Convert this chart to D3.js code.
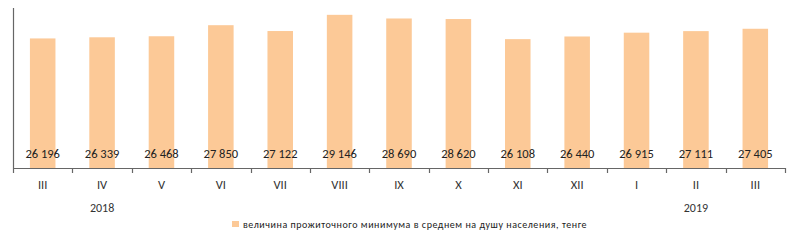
<!DOCTYPE html>
<html>
<head>
<meta charset="utf-8">
<script src="https://cdn.jsdelivr.net/npm/d3@7"></script>
<style>
  body { margin: 0; background: #fff; }
  text { font-family: Calibri, Carlito, "Liberation Sans", Arial, sans-serif; }
</style>
</head>
<body>
<div id="chartContainer"></div>
<script>
// Data
const months = ["III", "IV", "V", "VI", "VII", "VIII", "IX", "X", "XI", "XII", "I", "II", "III"];
const values = [26196, 26339, 26468, 27850, 27122, 29146, 28690, 28620, 26108, 26440, 26915, 27111, 27405];
const years = [{ label: "2018", index: 1 }, { label: "2019", index: 11 }];
const legendLabel = "величина прожиточного минимума в среднем на душу населения, тенге";

const keys = months.map((m, i) => i);

// Chart dimensions
const width = 800;
const height = 241;
const marginTop = 8;
const marginLeft = 13;
const marginRight = 15;
const axisY = 168;

const x = d3.scaleBand()
    .domain(keys)
    .range([marginLeft, width - marginRight])
    .paddingInner(0.57)
    .paddingOuter(0.285);

const y = d3.scaleLinear()
    .domain([10000, 30000])
    .range([axisY, marginTop]);

const svg = d3.create("svg")
    .attr("width", width)
    .attr("height", height)
    .attr("viewBox", [0, 0, width, height]);

// Bars
svg.append("g")
    .selectAll("rect")
    .data(values)
    .join("rect")
    .attr("x", (d, i) => x(i))
    .attr("y", d => y(d))
    .attr("width", x.bandwidth())
    .attr("height", d => axisY - y(d))
    .attr("fill", "#fcc997");

// Value labels near the bottom of each bar
svg.append("g")
    .selectAll("text")
    .data(values)
    .join("text")
    .attr("x", (d, i) => x(i) + x.bandwidth() / 2)
    .attr("y", axisY - 10)
    .attr("text-anchor", "middle")
    .attr("font-size", 12.5)
    .attr("fill", "#222")
    .text(d => d3.format(",")(d).replace(/,/g, " "));

// Y axis line (no ticks)
svg.append("line")
    .attr("x1", marginLeft + 0.5)
    .attr("x2", marginLeft + 0.5)
    .attr("y1", marginTop)
    .attr("y2", axisY)
    .attr("stroke", "#666")
    .attr("stroke-width", 1.2);

// X axis with ticks between categories
const tickPos = d3.range(months.length + 1).map(i => marginLeft + i * (width - marginRight - marginLeft) / months.length);

const xAxis = svg.append("g");
xAxis.append("line")
    .attr("x1", marginLeft)
    .attr("x2", width - marginRight)
    .attr("y1", axisY + 0.5)
    .attr("y2", axisY + 0.5)
    .attr("stroke", "#666")
    .attr("stroke-width", 1.2);
xAxis.selectAll(".tick")
    .data(tickPos)
    .join("line")
    .attr("x1", d => Math.round(d) + 0.5)
    .attr("x2", d => Math.round(d) + 0.5)
    .attr("y1", axisY)
    .attr("y2", axisY + 5)
    .attr("stroke", "#666")
    .attr("stroke-width", 1.2);

// Month labels
xAxis.selectAll(".month")
    .data(months)
    .join("text")
    .attr("x", (d, i) => x(i) + x.bandwidth() / 2)
    .attr("y", 189)
    .attr("text-anchor", "middle")
    .attr("font-size", 12.5)
    .attr("fill", "#333")
    .text(d => d);

// Year labels
svg.append("g")
    .selectAll("text")
    .data(years)
    .join("text")
    .attr("x", d => x(d.index) + x.bandwidth() / 2)
    .attr("y", 212)
    .attr("text-anchor", "middle")
    .attr("font-size", 12)
    .attr("fill", "#333")
    .text(d => d.label);

// Legend
const legend = svg.append("g").attr("transform", "translate(232,221)");
legend.append("rect")
    .attr("width", 7)
    .attr("height", 6)
    .attr("fill", "#fcc997");
legend.append("text")
    .attr("x", 11)
    .attr("y", 6.5)
    .attr("font-size", 10)
    .attr("letter-spacing", 0.55)
    .attr("fill", "#222")
    .text(legendLabel);

document.getElementById("chartContainer").appendChild(svg.node());
</script>
</body>
</html>
